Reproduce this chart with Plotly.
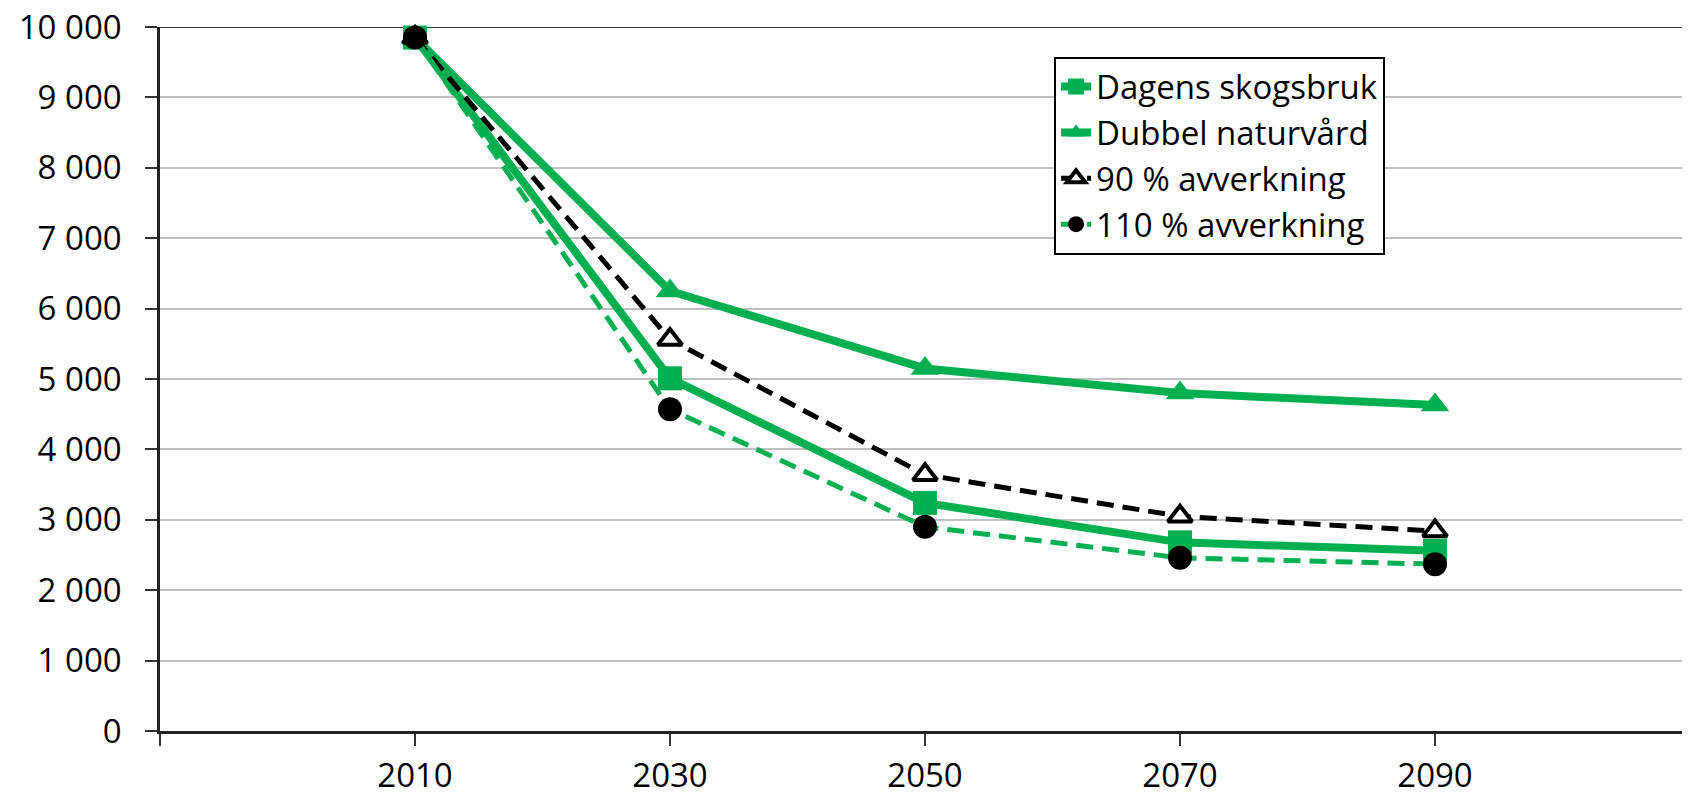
import plotly.graph_objects as go

years = [2010, 2030, 2050, 2070, 2090]
dagens = [9850, 5010, 3240, 2680, 2560]
dubbel = [9850, 6250, 5150, 4800, 4630]
avv90 = [9850, 5560, 3640, 3050, 2840]
avv110 = [9850, 4570, 2900, 2460, 2370]

ytick_vals = [0, 1000, 2000, 3000, 4000, 5000, 6000, 7000, 8000, 9000, 10000]
ytick_text = ["0", "1 000", "2 000", "3 000", "4 000", "5 000", "6 000", "7 000", "8 000", "9 000", "10 000"]
xtick_vals = [1990, 2010, 2030, 2050, 2070, 2090, 2110]
xtick_text = ["", "2010", "2030", "2050", "2070", "2090", ""]

GREEN = "#00b050"
FONT = "Open Sans"

fig = go.Figure()
fig.add_trace(go.Scatter(
    x=years, y=dagens, name="Dagens skogsbruk", mode="lines+markers",
    line=dict(color=GREEN, width=8),
    marker=dict(symbol="square", size=24, color=GREEN),
    cliponaxis=False, legendgroup="a"))
fig.add_trace(go.Scatter(
    x=years, y=dubbel, name="Dubbel naturvård", mode="lines+markers",
    line=dict(color=GREEN, width=8),
    marker=dict(symbol="triangle-up", size=25, color=GREEN),
    cliponaxis=False, legendgroup="b"))
fig.add_trace(go.Scatter(
    x=years, y=avv90, name="90 % avverkning", mode="lines+markers",
    line=dict(color="black", width=5, dash="17px,9px"),
    marker=dict(symbol="triangle-up", size=21, color="white",
                line=dict(color="black", width=4)),
    cliponaxis=False, legendgroup="c"))
fig.add_trace(go.Scatter(
    x=years, y=avv110, name="110 % avverkning", mode="lines+markers",
    line=dict(color=GREEN, width=5, dash="17px,9px"),
    marker=dict(symbol="circle", size=24, color="black"),
    cliponaxis=False, legendgroup="d"))

# page body has an 8px margin: the figure is sized/offset to compensate
fig.update_layout(
    width=1682, height=788,
    margin=dict(l=152, r=0, t=19, b=65),
    paper_bgcolor="white", plot_bgcolor="white",
    font=dict(family=FONT, size=33, color="black"),
    showlegend=True,
    legend=dict(
        x=0.8007, y=0.958, xanchor="right", yanchor="top",
        bgcolor="white", bordercolor="black", borderwidth=2,
        font=dict(family=FONT, size=33, color="black"),
        traceorder="normal", tracegroupgap=2,
    ),
    xaxis=dict(
        range=[1990, 2110], tickmode="array", tickvals=xtick_vals, ticktext=xtick_text,
        showgrid=False, zeroline=False, showline=True, linecolor="#222222", linewidth=2.5,
        ticks="outside", ticklen=12, tickwidth=1.5, tickcolor="#333333",
        tickfont=dict(family=FONT, size=33, color="black"),
        automargin=False, ticklabelstandoff=2, ticklabeloverflow="allow",
    ),
    yaxis=dict(
        range=[0, 10000], tickmode="array", tickvals=ytick_vals, ticktext=ytick_text,
        showgrid=True, gridcolor="#bfbfbf", gridwidth=1.5, zeroline=False,
        showline=True, linecolor="#222222", linewidth=2.5,
        ticks="outside", ticklen=12, tickwidth=1.5, tickcolor="#333333",
        tickfont=dict(family=FONT, size=33, color="black"),
        automargin=False, ticklabelstandoff=17, ticklabeloverflow="allow",
    ),
    shapes=[dict(type="line", xref="paper", x0=0, x1=1, yref="y", y0=10000, y1=10000,
                 line=dict(color="#333333", width=2), layer="below")],
)

fig.write_html("out.html")
